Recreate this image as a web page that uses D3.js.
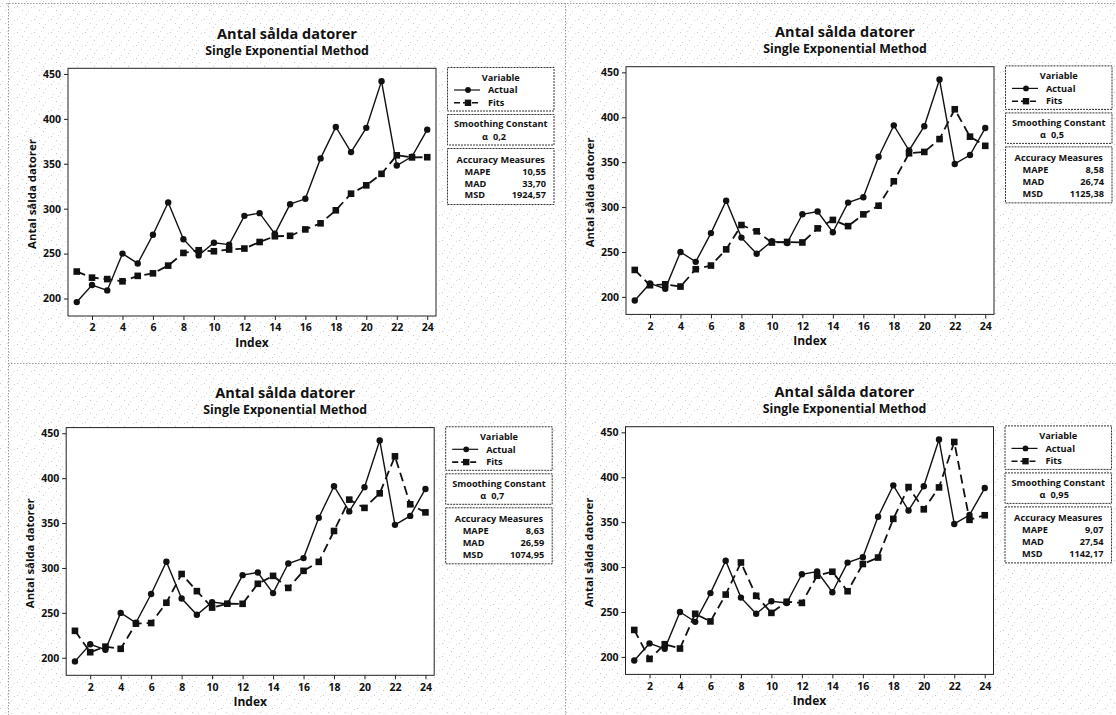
<!DOCTYPE html>
<html>
<head>
<meta charset="utf-8">
<script src="https://cdn.jsdelivr.net/npm/d3@7"></script>
<style>
  html, body { margin: 0; padding: 0; background: #ffffff; }
  svg { display: block; }
  text { font-family: "Open Sans", "DejaVu Sans", sans-serif; font-weight: 700; fill: #111; }
</style>
</head>
<body>
<svg id="chart" width="1116" height="715"></svg>
<script>
// ---------- data ----------
const indexValues = [1,2,3,4,5,6,7,8,9,10,11,12,13,14,15,16,17,18,19,20,21,22,23,24];
const actual = [196,215,209,250,239,271,307,266,248,262,260,292,295,272,305,311,356,391,363,390,442,348,358,388];
const fits02 = [230,223.2,221.6,219.1,225.2,228,236.6,250.7,253.7,252.6,254.5,255.6,262.9,269.3,269.8,276.9,283.7,298.2,316.7,326,338.8,359.4,357.1,357.3];
const fits05 = [230,213,214,211.5,230.8,234.9,252.9,280,273,260.5,261.2,260.6,276.3,285.7,278.8,291.9,301.5,328.7,359.9,361.4,375.7,408.9,378.4,368.2];
const fits07 = [230,206.2,212.4,210,238,238.7,261.3,293.3,274.2,255.9,260.2,260.1,282.4,291.2,277.8,296.8,306.8,341.2,376.1,366.9,383.1,424.3,370.9,361.9];
const fits095 = [230,197.7,214.1,209.3,248,239.5,269.4,305.1,268,249,261.4,260.1,290.4,294.8,273.1,303.4,310.6,353.7,389.1,364.3,388.7,439.3,352.6,357.7];
const alphaLabels = ["0,2","0,5","0,7","0,95"];
const mapeValues = ["10,55","8,58","8,63","9,07"];
const madValues = ["33,70","26,74","26,59","27,54"];
const msdValues = ["1924,57","1125,38","1074,95","1142,17"];
const xTicks = [2,4,6,8,10,12,14,16,18,20,22,24];
const yTicks = [200,250,300,350,400,450];
const titleText = "Antal sålda datorer";
const subtitleText = "Single Exponential Method";
const yLabelText = "Antal sålda datorer";
const xLabelText = "Index";

const fitsSeries = [fits02, fits05, fits07, fits095];
const panelOrigins = [[0,0],[558,-1.6],[-1.8,359.3],[557.5,358.4]];

const svg = d3.select("#chart");

// background speckle texture (scanned look)
const defs = svg.append("defs");
const pat = defs.append("pattern").attr("id","speck").attr("width",17).attr("height",13)
  .attr("patternUnits","userSpaceOnUse");
pat.append("rect").attr("width",17).attr("height",13).attr("fill","#ffffff");
[[2,3],[9,1],[14,7],[5,10],[11,11],[0,6],[7,5]].forEach(([x,y],i)=>{
  pat.append("rect").attr("x",x).attr("y",y).attr("width",1).attr("height",1)
    .attr("fill", i%2 ? "#c8c8c8" : "#dadada");
});
svg.append("rect").attr("width",1116).attr("height",715).attr("fill","url(#speck)");

// panel separators (dotted)
const sep = svg.append("g").attr("stroke","#9a9a9a").attr("stroke-width",1).attr("stroke-dasharray","1.5,1.5");
sep.append("line").attr("x1",6).attr("x2",1116).attr("y1",3.5).attr("y2",3.5);
sep.append("line").attr("x1",8.5).attr("x2",8.5).attr("y1",3).attr("y2",715);
sep.append("line").attr("x1",565.5).attr("x2",565.5).attr("y1",3).attr("y2",715);
sep.append("line").attr("x1",8).attr("x2",1116).attr("y1",363.5).attr("y2",363.5);

// ---------- layout (panel-relative) ----------
const frame = {left: 68, right: 436, top: 68.3, bottom: 316};

function drawPanel(pi) {
  const [ox, oy] = panelOrigins[pi];
  const g = svg.append("g").attr("transform", `translate(${ox},${oy})`);
  const fits = fitsSeries[pi];

  const x = d3.scaleLinear().domain([0.425, 24.575]).range([frame.left, frame.right]);
  const y = d3.scaleLinear().domain([180.5, 456.3]).range([frame.bottom, frame.top]);

  // titles
  g.append("text").attr("x", 287).attr("y", 39).attr("text-anchor","middle")
    .style("font-size","14.5px").text(titleText);
  g.append("text").attr("x", 287).attr("y", 54.5).attr("text-anchor","middle")
    .style("font-size","12.3px").text(subtitleText);

  // plot area
  g.append("rect").attr("x", frame.left).attr("y", frame.top)
    .attr("width", frame.right - frame.left).attr("height", frame.bottom - frame.top)
    .attr("fill","#ffffff").attr("stroke","#222").attr("stroke-width",1);

  // axes
  const xAxis = d3.axisBottom(x).tickValues(xTicks).tickSize(4).tickSizeOuter(0).tickPadding(4);
  const yAxis = d3.axisLeft(y).tickValues(yTicks).tickSize(4).tickSizeOuter(0).tickPadding(3);
  const gx = g.append("g").attr("transform", `translate(0,${frame.bottom})`).call(xAxis);
  const gy = g.append("g").attr("transform", `translate(${frame.left},0)`).call(yAxis);
  [gx, gy].forEach(a => {
    a.select(".domain").remove();
    a.selectAll(".tick line").attr("stroke","#222");
    a.selectAll(".tick text").style("font-family","'Open Sans', sans-serif")
      .style("font-weight","700").style("font-size","10.5px").attr("fill","#111");
  });

  // axis labels
  g.append("text").attr("x", (frame.left + frame.right)/2).attr("y", 346.5)
    .attr("text-anchor","middle").style("font-size","12px").text(xLabelText);
  g.append("text").attr("transform", `translate(35.5,194) rotate(-90)`)
    .attr("text-anchor","middle").style("font-size","11.4px").text(yLabelText);

  // lines
  const line = d3.line().x((d,i) => x(indexValues[i])).y(d => y(d));
  g.append("path").datum(actual).attr("d", line).attr("fill","none")
    .attr("stroke","#111").attr("stroke-width",1.4);
  g.append("path").datum(fits).attr("d", line).attr("fill","none")
    .attr("stroke","#111").attr("stroke-width",1.8).attr("stroke-dasharray","9,5");

  g.append("g").selectAll("circle").data(actual).join("circle")
    .attr("cx",(d,i)=>x(indexValues[i])).attr("cy",d=>y(d)).attr("r",3.2).attr("fill","#111");
  g.append("g").selectAll("rect").data(fits).join("rect")
    .attr("x",(d,i)=>x(indexValues[i])-3.3).attr("y",d=>y(d)-3.3)
    .attr("width",6.6).attr("height",6.6).attr("fill","#111");

  // legend boxes
  const lx = 447.5, lw = 106.5;
  const boxStyle = sel => sel.attr("fill","#fff").attr("stroke","#333").attr("stroke-width",1)
    .attr("stroke-dasharray","2,1");
  g.append("rect").attr("x",lx).attr("y",67.5).attr("width",lw).attr("height",43.5).call(boxStyle);
  g.append("rect").attr("x",lx).attr("y",114.5).attr("width",lw).attr("height",30.5).call(boxStyle);
  g.append("rect").attr("x",lx).attr("y",148.5).attr("width",lw).attr("height",56).call(boxStyle);

  const fs = "9.2px";
  const cx = lx + lw/2;
  g.append("text").attr("x",cx).attr("y",81).attr("text-anchor","middle").style("font-size",fs).text("Variable");
  // Actual legend row
  g.append("line").attr("x1",454).attr("x2",480).attr("y1",90).attr("y2",90)
    .attr("stroke","#111").attr("stroke-width",1.2);
  g.append("circle").attr("cx",468).attr("cy",90).attr("r",2.9).attr("fill","#111");
  g.append("text").attr("x",488).attr("y",93.3).style("font-size",fs).text("Actual");
  // Fits legend row
  g.append("line").attr("x1",454).attr("x2",480).attr("y1",102.8).attr("y2",102.8)
    .attr("stroke","#111").attr("stroke-width",1.6).attr("stroke-dasharray","6,3");
  g.append("rect").attr("x",464.8).attr("y",99.6).attr("width",6.4).attr("height",6.4).attr("fill","#111");
  g.append("text").attr("x",488).attr("y",106).style("font-size",fs).text("Fits");

  g.append("text").attr("x",cx).attr("y",127.3).attr("text-anchor","middle").style("font-size",fs).text("Smoothing Constant");
  g.append("text").attr("x",485).attr("y",140).attr("text-anchor","middle").style("font-size",fs).text("α");
  g.append("text").attr("x",493).attr("y",140).style("font-size",fs).text(alphaLabels[pi]);

  g.append("text").attr("x",cx).attr("y",162.8).attr("text-anchor","middle").style("font-size",fs).text("Accuracy Measures");
  const rows = [["MAPE", mapeValues[pi], 174.5],["MAD", madValues[pi], 186.5],["MSD", msdValues[pi], 198.3]];
  rows.forEach(([lab, val, yy]) => {
    g.append("text").attr("x",464.5).attr("y",yy).style("font-size",fs).text(lab);
    g.append("text").attr("x",546).attr("y",yy).attr("text-anchor","end").style("font-size",fs).text(val);
  });
}

[0,1,2,3].forEach(drawPanel);
</script>
</body>
</html>
